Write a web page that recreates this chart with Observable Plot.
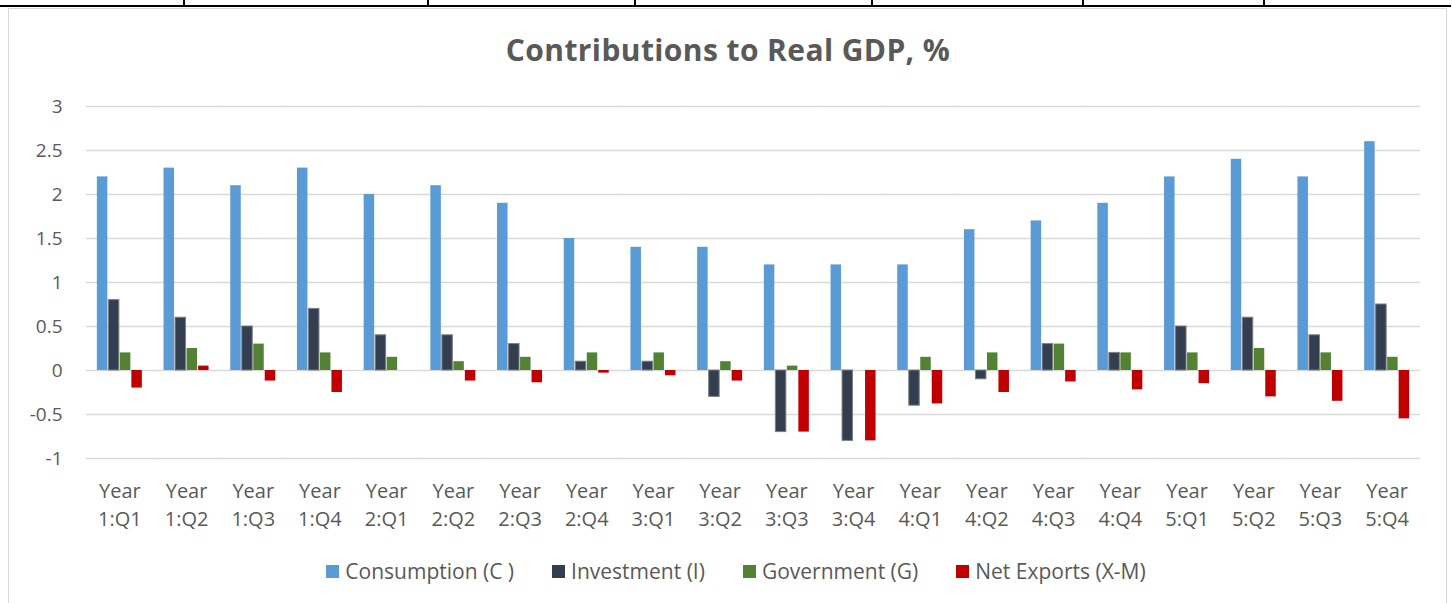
<!DOCTYPE html>
<html>
<head>
<meta charset="utf-8">
<script src="https://cdn.jsdelivr.net/npm/d3@7"></script>
<script src="https://cdn.jsdelivr.net/npm/@observablehq/plot@0.6"></script>
<style>
  html, body { margin: 0; padding: 0; background: #fff; }
  #page { position: relative; width: 1452px; height: 603px; overflow: hidden; font-family: "Open Sans", sans-serif; }
  #frame { position: absolute; left: 8px; top: 8px; width: 1439px; height: 610px; border: 1.5px solid #d9d9d9; box-sizing: border-box; }
  #topline { position: absolute; left: 0; top: 5px; width: 1451px; height: 2px; background: #000; }
  .vt { position: absolute; top: 0; width: 2px; height: 6px; background: #000; }
  #title { position: absolute; left: 0; width: 1456px; top: 29px; text-align: center; font-weight: 700; font-size: 30px; color: #595959; letter-spacing: 0.4px; }
  #chart { position: absolute; left: 0; top: 0; }
  #legend { position: absolute; left: 0; width: 1472px; top: 557px; display: flex; justify-content: center; gap: 38px; font-size: 21px; color: #595959; }
  .item { display: flex; align-items: center; }
  .sw { width: 13px; height: 13px; margin-right: 6px; }
</style>
</head>
<body>
<div id="page">
  <div id="frame"></div>
  <div id="topline"></div>
  <div class="vt" style="left:183px"></div>
  <div class="vt" style="left:427px"></div>
  <div class="vt" style="left:634px"></div>
  <div class="vt" style="left:871px"></div>
  <div class="vt" style="left:1082px"></div>
  <div class="vt" style="left:1263px"></div>
  <div id="title">Contributions to Real GDP, %</div>
  <div id="chart"></div>
  <div id="legend"></div>
</div>
<script>
const quarters = ["Year 1:Q1","Year 1:Q2","Year 1:Q3","Year 1:Q4","Year 2:Q1","Year 2:Q2","Year 2:Q3","Year 2:Q4","Year 3:Q1","Year 3:Q2","Year 3:Q3","Year 3:Q4","Year 4:Q1","Year 4:Q2","Year 4:Q3","Year 4:Q4","Year 5:Q1","Year 5:Q2","Year 5:Q3","Year 5:Q4"];
const consumption = [2.2, 2.3, 2.1, 2.3, 2.0, 2.1, 1.9, 1.5, 1.4, 1.4, 1.2, 1.2, 1.2, 1.6, 1.7, 1.9, 2.2, 2.4, 2.2, 2.6];
const investment  = [0.8, 0.6, 0.5, 0.7, 0.4, 0.4, 0.3, 0.1, 0.1, -0.3, -0.7, -0.8, -0.4, -0.1, 0.3, 0.2, 0.5, 0.6, 0.4, 0.75];
const government  = [0.2, 0.25, 0.3, 0.2, 0.15, 0.1, 0.15, 0.2, 0.2, 0.1, 0.05, 0, 0.15, 0.2, 0.3, 0.2, 0.2, 0.25, 0.2, 0.15];
const netExports  = [-0.2, 0.05, -0.12, -0.25, 0, -0.12, -0.14, -0.03, -0.06, -0.12, -0.7, -0.8, -0.38, -0.25, -0.13, -0.22, -0.15, -0.3, -0.35, -0.55];
const seriesNames = ["Consumption (C )", "Investment (I)", "Government (G)", "Net Exports (X-M)"];
const seriesColors = ["#5B9BD5", "#333F50", "#548235", "#C00000"];
const yTicks = [-1, -0.5, 0, 0.5, 1, 1.5, 2, 2.5, 3];

const seriesValues = [consumption, investment, government, netExports];
const rows = [];
quarters.forEach((q, i) => {
  seriesNames.forEach((s, j) => rows.push({quarter: q, series: s, value: seriesValues[j][i]}));
});

const chart = Plot.plot({
  width: 1452,
  height: 545,
  marginLeft: 86,
  marginRight: 32,
  marginTop: 106,
  marginBottom: 87,
  style: {fontFamily: "Open Sans, sans-serif", color: "#595959", background: "transparent"},
  fx: {domain: quarters, padding: 0, round: false},
  x: {domain: seriesNames, paddingInner: 0, paddingOuter: 0.9, round: false, axis: null},
  y: {domain: [-1, 3]},
  color: {domain: seriesNames, range: seriesColors},
  marks: [
    Plot.gridY(yTicks, {stroke: "#d9d9d9", strokeOpacity: 1, strokeWidth: 1.5}),
    Plot.axisY(yTicks, {tickSize: 0, tickPadding: 24, fontSize: 19, fill: "#595959", tickFormat: d => String(d), label: null}),
    Plot.axisFx({anchor: "bottom", tickSize: 0, tickPadding: 20, fontSize: 20, lineHeight: 1.4, fill: "#595959", tickFormat: d => d.replace(" ", "\n"), label: null}),
    Plot.barY(rows, {fx: "quarter", x: "series", y: "value", fill: "series", insetLeft: 0.5, insetRight: 0.5}),
    Plot.barY(rows.filter(d => d.series === seriesNames[1]), {fx: "quarter", x: "series", y: "value", fill: "none", stroke: "#7f7f7f", strokeWidth: 1, insetLeft: 0.5, insetRight: 0.5})
  ]
});
document.getElementById("chart").appendChild(chart);

const legend = document.getElementById("legend");
seriesNames.forEach((s, j) => {
  const item = document.createElement("div");
  item.className = "item";
  const sw = document.createElement("div");
  sw.className = "sw";
  sw.style.background = seriesColors[j];
  const t = document.createElement("span");
  t.textContent = s;
  item.appendChild(sw);
  item.appendChild(t);
  legend.appendChild(item);
});
</script>
</body>
</html>
